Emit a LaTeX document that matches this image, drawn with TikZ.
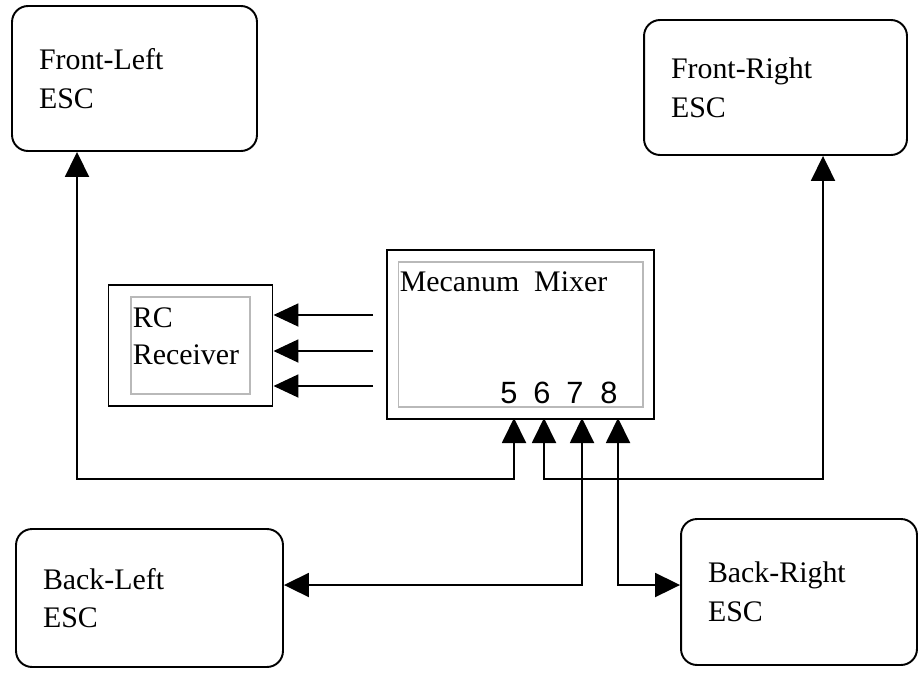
\documentclass[tikz,border=0pt]{standalone}
\usepackage{fontspec}
\setmainfont{Liberation Serif}
\setsansfont{Liberation Sans}
\usepackage{tikz}
\usetikzlibrary{arrows.meta,positioning,fit,calc}
\definecolor{panelgray}{RGB}{185,185,185}

\tikzset{
  esc/.style={draw, line width=1.1pt, rounded corners=0.32cm, align=left,
              inner xsep=0.54cm, font=\fontsize{17}{22}\selectfont},
  panel/.style={draw=panelgray, line width=0.6pt, inner sep=0pt},
  boxtext/.style={align=left, inner xsep=0.04cm, inner ysep=0.21cm,
                  font=\fontsize{17}{21}\selectfont},
  outerbox/.style={draw, line width=1.1pt},
  digit/.style={anchor=base, inner sep=0pt, font=\sffamily\fontsize{17.5}{20}\selectfont},
  arr/.style={line width=1.1pt, -{Triangle[length=0.5cm,width=0.46cm]}},
  dbl/.style={line width=1.1pt,
              {Triangle[length=0.5cm,width=0.48cm]}-{Triangle[length=0.5cm,width=0.48cm]}}
}

\begin{document}
\begin{tikzpicture}[x=0.02cm, y=-0.02cm]
    \useasboundingbox (0,0) rectangle (918,672);

    % ESC boxes
    \node[esc, text width=3.82cm, minimum height=2.9cm]  (fl) at (134.5,78.5) {Front-Left\\ESC};
    \node[esc, text width=4.18cm, minimum height=2.7cm]  (fr) at (775.5,87.5) {Front-Right\\ESC};
    \node[esc, text width=4.26cm, minimum height=2.76cm] (bl) at (149.5,598) {Back-Left\\ESC};
    \node[esc, text width=3.64cm, minimum height=2.92cm] (br) at (799,592) {Back-Right\\ESC};

    % receiver
    \node[panel, minimum width=2.38cm, minimum height=1.94cm] (rcin) at (190.5,345.5) {};
    \node[boxtext, anchor=north west] (rctxt) at (rcin.north west) {RC\\Receiver};
    \node[outerbox, fit=(rcin), inner xsep=0.44cm, inner ysep=0.23cm] (rc) {};

    % mixer
    \node[panel, minimum width=4.9cm, minimum height=2.9cm] (mixin) at (520.5,334.5) {};
    \node[boxtext, anchor=north west, inner ysep=0.19cm] (mixtxt) at (mixin.north west) {Mecanum\ \ Mixer};
    \node[outerbox, fit=(mixin), inner xsep=0.21cm, inner ysep=0.23cm] (mix) {};

    \foreach \d/\x/\p in {5/509/514, 6/542/544, 7/575/582, 8/609/618}{
      \node[digit] (d\d) at (\x,403) {\d};
      \coordinate (p\d) at (\p,418);
    }

    % mixer -> receiver
    \foreach \k/\y in {1/315, 2/351, 3/386}{
      \coordinate (s\k) at (373,\y);
      \draw[arr] (s\k) -- (s\k -| rc.east);
    }

    % outputs to the ESCs
    \coordinate (j5) at (77,479);
    \coordinate (j6) at (823,479);
    \coordinate (j7) at (582,585);
    \coordinate (j8) at (618,585);
    \draw[dbl] (p5) |- (j5) -- (j5 |- fl.south);
    \draw[dbl] (p6) |- (j6) -- (j6 |- fr.south);
    \draw[dbl] (p7) -- (j7) -- (j7 -| bl.east);
    \draw[dbl] (p8) -- (j8) -- (j8 -| br.west);
  \end{tikzpicture}
\end{document}
